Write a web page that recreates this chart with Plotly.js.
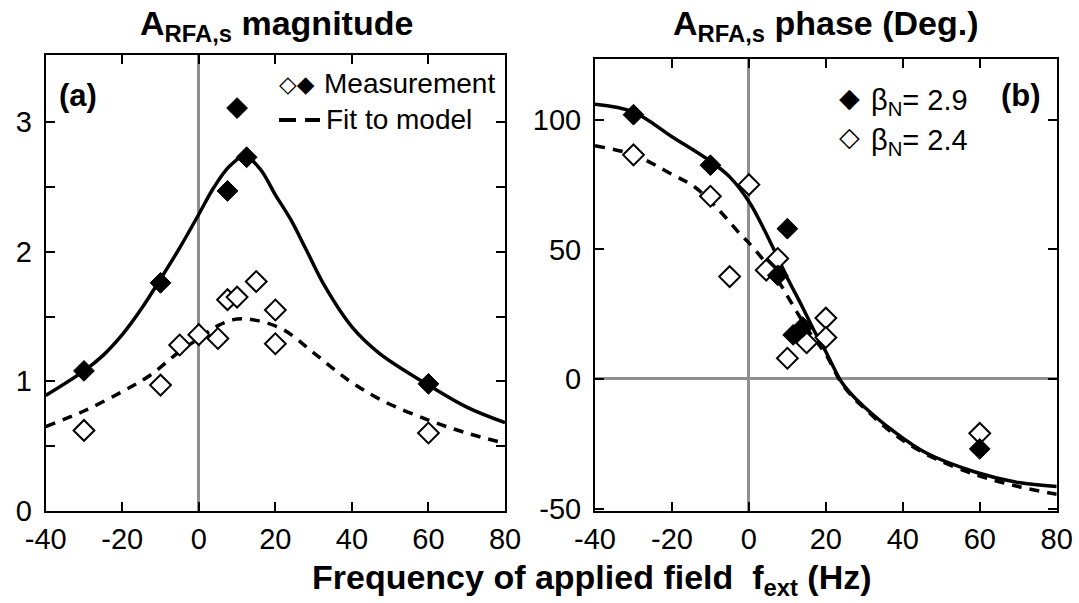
<!DOCTYPE html>
<html>
<head>
<meta charset="utf-8">
<script src="https://cdn.plot.ly/plotly-3.0.1.min.js"></script>
<style>html,body{margin:0;padding:0;background:#fff;}#chart{width:1079px;height:603px;}</style>
</head>
<body>
<div id="chart"></div>
<script>
// ---- Panel (a): magnitude ----
const magFitX29 = [-40,-30,-25,-20,-15,-10,-5,0,4,8,12,16,20,24,28,33,40,47,60,70,80];
const magFit29  = [0.89,1.08,1.20,1.36,1.56,1.79,2.03,2.29,2.50,2.66,2.74,2.64,2.44,2.25,2.02,1.73,1.42,1.22,0.97,0.80,0.68];
const magFitX24 = [-40,-30,-20,-13,-5,0,5,10,15,22,30,39,48,60,70,80];
const magFit24  = [0.65,0.77,0.92,1.04,1.23,1.33,1.43,1.48,1.47,1.40,1.22,1.01,0.85,0.70,0.60,0.52];
const magMeasX29 = [-30,-10,7.5,10,12.5,60];
const magMeas29  = [1.08,1.76,2.47,3.11,2.73,0.98];
const magMeasX24 = [-30,-10,-5,0,5,7.5,10,15,20,20,60];
const magMeas24  = [0.62,0.97,1.28,1.36,1.33,1.63,1.65,1.77,1.55,1.29,0.60];

// ---- Panel (b): phase ----
const phFitX29 = [-40,-30,-20,-10,-5,0,3,6,10,14,17,20,22,24,27,30,37,46,59,70,80];
const phFit29  = [106,103,93.5,84,78,68.5,60.5,51.5,39,27.5,18.5,10.5,4.5,-1,-6.5,-10.8,-19.5,-28.5,-36,-40,-41.5];
const phFitX24 = [-40,-30,-20,-14,-8,-2,0,4,8,12,16,20,22,24,27,30,37,46,59,70,80];
const phFit24  = [90,86.5,79,74,65.5,55.5,52.5,45.5,37,27,17.5,9.5,4,-1.5,-7,-11.3,-20.5,-29,-37,-41.5,-44.5];
const phMeasX29 = [-30,-10,7.5,10,11.5,14,60];
const phMeas29  = [102,82.5,40,58,17,20,-27];
const phMeasX24 = [-30,-10,-5,0,4.5,7.5,10,15,20,20,60];
const phMeas24  = [86.5,70.5,39.5,75,42,46.5,8,14,23.5,16,-21];

// ---- ticks ----
const xTickVals = [-40,-20,0,20,40,60,80];
const xTickText = ['-40','-20','0','20','40','60','80'];
const magTickVals = [0,0.5,1,1.5,2,2.5,3];
const magTickText = ['0','','1','','2','','3'];
const phTickVals = [-50,0,50,100];
const phTickText = ['-50','0','50','100'];

const FONT = 'Liberation Sans, Arial, Helvetica, sans-serif';
const lineSolid = {color:'#000', width:3.5, shape:'spline', smoothing:1};
const lineDash  = {color:'#000', width:3.5, dash:'10px,8px', shape:'spline', smoothing:1};
const mkFilled = {symbol:'diamond', size:16, color:'#000', line:{color:'#000', width:1}};
const mkOpen   = {symbol:'diamond', size:16, color:'#fff', line:{color:'#000', width:2}};

const traces = [
  {x:magFitX29, y:magFit29, mode:'lines', line:lineSolid, xaxis:'x', yaxis:'y'},
  {x:magFitX24, y:magFit24, mode:'lines', line:lineDash, xaxis:'x', yaxis:'y'},
  {x:magMeasX24, y:magMeas24, mode:'markers', marker:mkOpen, xaxis:'x', yaxis:'y'},
  {x:magMeasX29, y:magMeas29, mode:'markers', marker:mkFilled, xaxis:'x', yaxis:'y'},
  {x:phFitX29, y:phFit29, mode:'lines', line:lineSolid, xaxis:'x2', yaxis:'y2'},
  {x:phFitX24, y:phFit24, mode:'lines', line:lineDash, xaxis:'x2', yaxis:'y2'},
  {x:phMeasX24, y:phMeas24, mode:'markers', marker:mkOpen, xaxis:'x2', yaxis:'y2'},
  {x:phMeasX29, y:phMeas29, mode:'markers', marker:mkFilled, xaxis:'x2', yaxis:'y2'}
];

const axBase = {
  ticks:'inside', ticklen:9, tickwidth:2, tickcolor:'#000',
  showline:true, linewidth:2, linecolor:'#000', mirror:'ticks',
  showgrid:false, tickmode:'array', tickfont:{family:FONT, size:29, color:'#000'},
  zerolinecolor:'#8f8f8f', zerolinewidth:3, fixedrange:true
};

const W = 1079, H = 603;
const px = v => v / W;
const py = v => 1 - v / H;

const layout = {
  width:W, height:H, margin:{l:0, r:0, t:0, b:0},
  paper_bgcolor:'#fff', plot_bgcolor:'#fff', showlegend:false,
  font:{family:FONT, color:'#000', size:28},
  xaxis:Object.assign({}, axBase, {domain:[px(45.7), px(505)], range:[-40,80], tickvals:xTickVals, ticktext:xTickText, zeroline:true, anchor:'y', ticklabelstandoff:1}),
  yaxis:Object.assign({}, axBase, {domain:[py(510.7), py(55)], range:[0,3.52], tickvals:magTickVals, ticktext:magTickText, zeroline:false, anchor:'x', ticklabelstandoff:6}),
  xaxis2:Object.assign({}, axBase, {domain:[px(595), px(1056.7)], range:[-40,80], tickvals:xTickVals, ticktext:xTickText, zeroline:true, anchor:'y2', ticklabelstandoff:1}),
  yaxis2:Object.assign({}, axBase, {domain:[py(510.7), py(59)], range:[-50.85,123.5], tickvals:phTickVals, ticktext:phTickText, zeroline:true, anchor:'x2', ticklabelstandoff:6}),
  shapes:[
    {type:'line', xref:'paper', yref:'paper', x0:px(279), x1:px(320), y0:py(120), y1:py(120), line:{color:'#000', width:4, dash:'17px,9px'}}
  ],
  annotations:[
    {xref:'paper', yref:'paper', x:px(276), y:py(25), text:'<b>A<sub>RFA,s</sub> magnitude</b>', showarrow:false, xanchor:'center', yanchor:'middle', font:{size:34}},
    {xref:'paper', yref:'paper', x:px(826), y:py(25), text:'<b>A<sub>RFA,s</sub> phase (Deg.)</b>', showarrow:false, xanchor:'center', yanchor:'middle', font:{size:34}},
    {xref:'paper', yref:'paper', x:px(592), y:py(579), text:'<b>Frequency of applied field  f<sub>ext</sub> (Hz)</b>', showarrow:false, xanchor:'center', yanchor:'middle', font:{size:34}},
    {xref:'paper', yref:'paper', x:px(57), y:py(95), text:'<b>(a)</b>', showarrow:false, xanchor:'left', yanchor:'middle', font:{size:31}},
    {xref:'paper', yref:'paper', x:px(999), y:py(96), text:'<b>(b)</b>', showarrow:false, xanchor:'left', yanchor:'middle', font:{size:31}},
    {xref:'paper', yref:'paper', x:px(277), y:py(84), text:'◇◆', showarrow:false, xanchor:'left', yanchor:'middle', font:{family:'DejaVu Sans', size:23}},
    {xref:'paper', yref:'paper', x:px(322), y:py(83), text:'Measurement', showarrow:false, xanchor:'left', yanchor:'middle', font:{size:28}},
    {xref:'paper', yref:'paper', x:px(324), y:py(120), text:'Fit to model', showarrow:false, xanchor:'left', yanchor:'middle', font:{size:28}},
    {xref:'paper', yref:'paper', x:px(849.5), y:py(97), text:'◆', showarrow:false, xanchor:'center', yanchor:'middle', font:{family:'DejaVu Sans', size:27}},
    {xref:'paper', yref:'paper', x:px(869), y:py(102), text:'β<sub>N</sub>= 2.9', showarrow:false, xanchor:'left', yanchor:'middle', font:{size:29}},
    {xref:'paper', yref:'paper', x:px(849.5), y:py(137), text:'◇', showarrow:false, xanchor:'center', yanchor:'middle', font:{family:'DejaVu Sans', size:27}},
    {xref:'paper', yref:'paper', x:px(869), y:py(142), text:'β<sub>N</sub>= 2.4', showarrow:false, xanchor:'left', yanchor:'middle', font:{size:29}}
  ]
};

Plotly.newPlot('chart', traces, layout, {staticPlot:true, displayModeBar:false});
</script>
</body>
</html>
